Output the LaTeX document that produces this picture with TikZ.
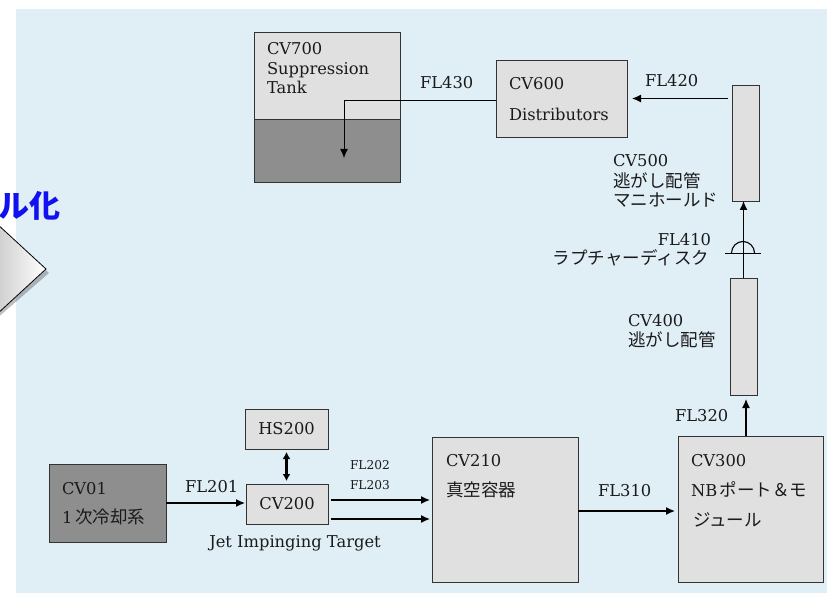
\documentclass[tikz,border=0pt]{standalone}
\usepackage{fontspec}
\setmainfont{DejaVu Serif}
\newfontfamily\jp{Noto Sans CJK JP}
\usetikzlibrary{arrows.meta}
\definecolor{panel}{HTML}{E0EEF6}
\definecolor{boxgray}{HTML}{E0E0E0}
\definecolor{darkfill}{HTML}{8E8E8E}
\definecolor{edge}{HTML}{333333}
\definecolor{txt}{HTML}{1A1A1A}
\definecolor{jpblue}{HTML}{1010F0}
\newcommand\jtext[1]{{\jp\fontsize{17.5}{20}\selectfont #1}}
\begin{document}
\begin{tikzpicture}[x=1pt,y=-1pt,
  blk/.style={draw=edge, line width=0.9pt, fill=boxgray, inner sep=0pt, outer sep=0pt, rectangle, text=txt, font=\fontsize{16.3}{20}\selectfont},
  dblk/.style={blk, fill=darkfill},
  lbl/.style={inner sep=0pt, outer sep=0pt, anchor=base west, text=txt, font=\fontsize{16.3}{20}\selectfont},
  smalllbl/.style={lbl, font=\fontsize{12.2}{16}\selectfont},
  arr/.style={line width=1.3pt, draw=black, -{Latex[length=9pt,width=8pt]}},
  thinarr/.style={line width=1pt, draw=black, -{Latex[length=9pt,width=8pt]}},
  ]
\useasboundingbox (0,0) rectangle (827,593);
\fill[white] (0,0) rectangle (827,593);
\fill[panel] (16,9) rectangle (827,593);

% left fragment
\fill[black, opacity=0.25] (-5,226) -- (49,273) -- (-5,320) -- cycle;
\shade[left color=gray!40, right color=white, draw=black, line width=0.8pt] (-5,222) -- (46,269) -- (-5,316) -- cycle;
\node[inner sep=0pt, anchor=east, text=jpblue, font=\jp\bfseries\fontsize{31}{31}\selectfont] (frag) at (61,206) {ル化};

% boxes
\node[blk, minimum width=146pt, minimum height=150pt] (cv700) at (327,107) {};
\fill[darkfill] (254,119) rectangle (400,182);
\draw[edge, line width=0.9pt] (254,119) -- (400,119);
\draw[edge, line width=0.9pt] (cv700.north west) rectangle (cv700.south east);

\node[blk, minimum width=131pt, minimum height=77pt] (cv600) at (561.5,98.5) {};
\node[blk, minimum width=27pt, minimum height=116pt] (cv500) at (745.5,143) {};
\node[blk, minimum width=27pt, minimum height=117pt] (cv400) at (743.5,336.5) {};
\node[blk, minimum width=145pt, minimum height=146pt] (cv300) at (750.5,509) {};
\node[blk, minimum width=146pt, minimum height=145pt] (cv210) at (505,509.5) {};
\node[blk, minimum width=82pt, minimum height=40pt] (cv200) at (287,504) {CV200};
\node[blk, minimum width=83pt, minimum height=40pt] (hs200) at (286.5,429) {HS200};
\node[dblk, minimum width=117pt, minimum height=78pt] (cv01) at (107.5,503) {};

% connectors
\coordinate (tankin) at (344,158);
\draw[thinarr] ([yshift=-2.5pt]cv600.west) -| (tankin);
\draw[arr, shorten <=4pt, shorten >=5pt] (cv500.west |- cv600.east) -- (cv600.east);
\draw[arr] (cv400.north) -- (cv400.north |- cv500.south);
\draw[arr, shorten >=4pt] ([xshift=-4.5pt]cv300.north) -- ([xshift=-4.5pt]cv300.north |- cv400.south);
\draw[arr, shorten >=3pt] ([yshift=-1.5pt]cv210.east) -- ([yshift=-1.5pt]cv210.east -| cv300.west);
\draw[arr, shorten >=1pt] (cv01.east) -- (cv01.east -| cv200.west);
\draw[arr, shorten <=3pt, shorten >=2pt] ([yshift=4pt]cv200.east) -- ([yshift=4pt]cv200.east -| cv210.west);
\draw[arr, shorten <=3pt, shorten >=2pt] ([yshift=-15pt]cv200.east) -- ([yshift=-15pt]cv200.east -| cv210.west);
\draw[line width=2.6pt, {Latex[length=7pt,width=8pt]}-{Latex[length=7pt,width=8pt]}, shorten <=3pt, shorten >=3pt] (hs200.south) -- (hs200.south |- cv200.north);

% rupture disk
\coordinate (rd) at (743,253);
\draw[line width=1.1pt] ([xshift=-11.5pt]rd) arc[start angle=180, end angle=0, radius=11.5pt];
\draw[line width=1pt] (725,254) -- (761,254);

% labels
\node[lbl] (t700a) at (267,55) {CV700};
\node[lbl] (t700b) at (267,75) {Suppression};
\node[lbl] (t700c) at (267,94) {Tank};
\node[lbl] (tfl430) at (420,89) {FL430};
\node[lbl] (t600a) at (509,90) {CV600};
\node[lbl] (t600b) at (509,121) {Distributors};
\node[lbl] (tfl420) at (645,87) {FL420};
\node[lbl] (t500a) at (613,167) {CV500};
\node[lbl] (t500b) at (613,188) {\jtext{逃がし配管}};
\node[lbl] (t500c) at (613,207) {\jtext{マニホールド}};
\node[lbl, anchor=base east] (tfl410) at (711,246) {FL410};
\node[lbl, anchor=base east] (trup) at (709,265) {\jtext{ラプチャーディスク}};
\node[lbl] (t400a) at (628,327) {CV400};
\node[lbl] (t400b) at (628,347) {\jtext{逃がし配管}};
\node[lbl] (tfl320) at (675,421) {FL320};
\node[lbl] (t300a) at (691,466) {CV300};
\node[lbl] (t300b) at (691,496) {NB\,\jtext{ポート＆モ}};
\node[lbl] (t300c) at (693,526) {\jtext{ジュール}};
\node[lbl] (t210a) at (446,466) {CV210};
\node[lbl] (t210b) at (446,496) {\jtext{真空容器}};
\node[lbl] (tfl310) at (598,496) {FL310};
\node[lbl] (tfl201) at (185,492) {FL201};
\node[smalllbl] (tfl202) at (350,469) {FL202};
\node[smalllbl] (tfl203) at (350,489) {FL203};
\node[lbl, anchor=base] (tjet) at (295,547) {Jet Impinging Target};
\node[lbl] (t01a) at (62,494) {CV01};
\node[lbl] (t01b) at (62,523) {1\,\jtext{次冷却系}};
\end{tikzpicture}
\end{document}
